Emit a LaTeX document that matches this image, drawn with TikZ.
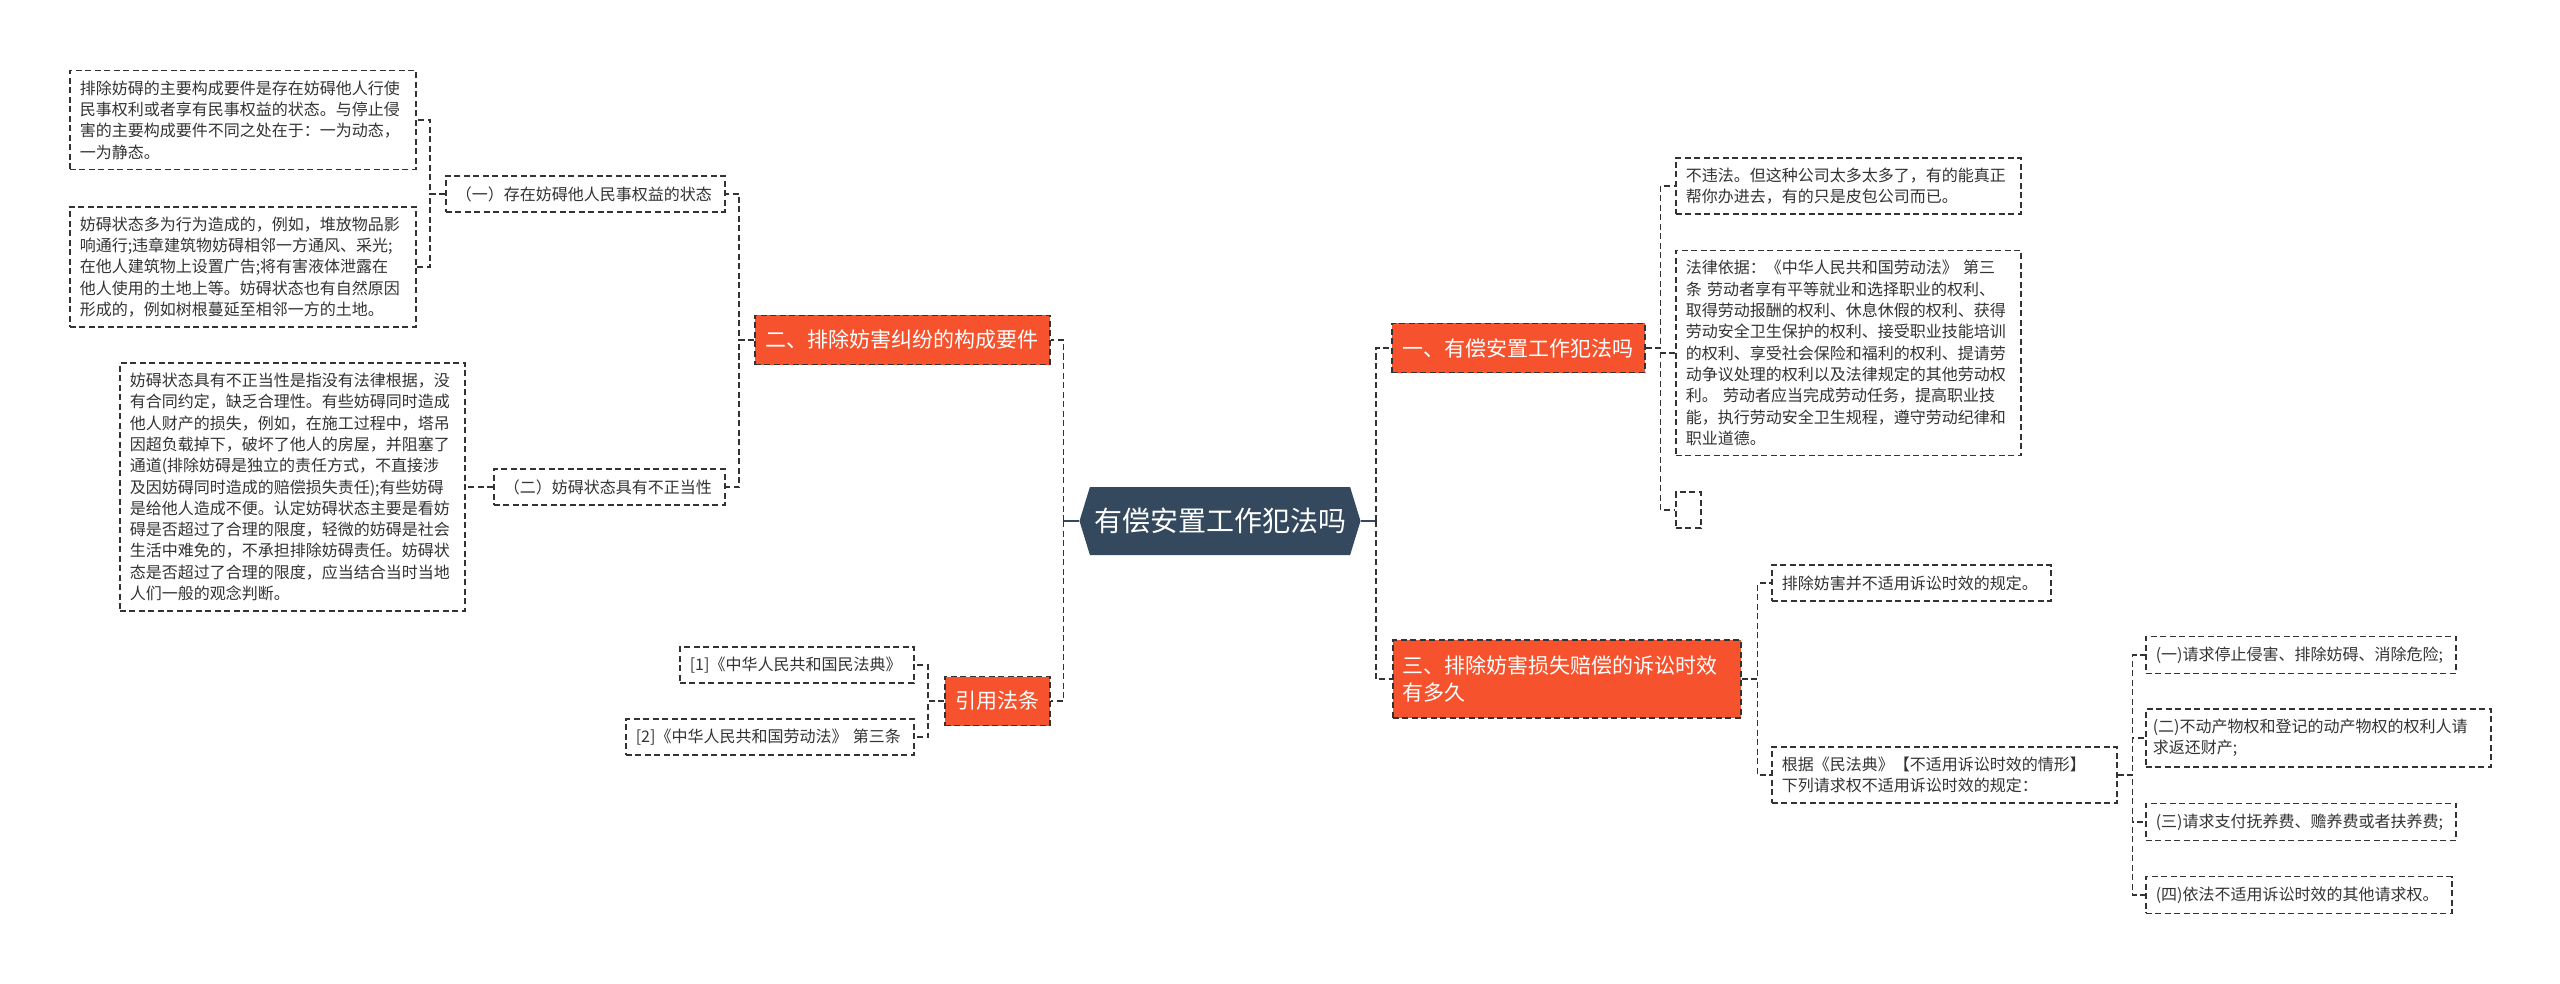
\documentclass[tikz,border=0pt]{standalone}
\usepackage{fontspec}
\setmainfont{Noto Sans CJK SC}
\usetikzlibrary{shapes.symbols}
\definecolor{topicred}{HTML}{F5522D}
\definecolor{rootblue}{HTML}{34495E}
\definecolor{linegray}{HTML}{333333}

\begin{document}
\begin{tikzpicture}[
  x=1pt, y=-1pt,
  conn/.style={draw=linegray, line width=1.6pt, dash pattern=on 6pt off 3.5pt},
  rootlink/.style={draw=rootblue, line width=2.5pt},
  leaf/.style={conn, fill=white, text=linegray, font=\fontsize{16}{21.3}\selectfont,
    align=left, text width=#1, inner xsep=10pt, inner ysep=10pt, minimum height=36pt, anchor=west},
  topic/.style={conn, fill=topicred, text=white, font=\fontsize{21}{27}\selectfont,
    inner xsep=10pt, minimum height=49pt, anchor=west},
  root/.style={shape=signal, signal to=west and east, signal pointer angle=146,
    fill=rootblue, text=white, font=\fontsize{28}{32}\selectfont,
    minimum width=281pt, minimum height=68pt, inner sep=0pt}
]
\useasboundingbox (0,0) rectangle (2560,984);

\node[root] (root) at (1220,521) {有偿安置工作犯法吗};

\node[topic, minimum width=295pt] (er) at (754,340) {二、排除妨害纠纷的构成要件};
\node[topic, minimum width=105pt] (yy) at (944,701) {引用法条};
\node[topic, minimum width=253pt] (yi) at (1391,348) {一、有偿安置工作犯法吗};
\node[topic, text width=328pt, align=left, minimum height=78pt] (san) at (1392,679)
  {三、排除妨害损失赔偿的诉讼时效\\有多久};

\node[leaf=259pt] (b1) at (445,194) {（一）存在妨碍他人民事权益的状态};
\node[leaf=211pt] (b2) at (493,487) {（二）妨碍状态具有不正当性};
\node[leaf=326pt] (a1) at (69,120) {排除妨碍的主要构成要件是存在妨碍他人行使\\
民事权利或者享有民事权益的状态。与停止侵\\
害的主要构成要件不同之处在于：一为动态，\\
一为静态。};
\node[leaf=326pt] (a2) at (69,267) {妨碍状态多为行为造成的，例如，堆放物品影\\
响通行;违章建筑物妨碍相邻一方通风、采光;\\
在他人建筑物上设置广告;将有害液体泄露在\\
他人使用的土地上等。妨碍状态也有自然原因\\
形成的，例如树根蔓延至相邻一方的土地。};
\node[leaf=325pt] (a3) at (119,487) {妨碍状态具有不正当性是指没有法律根据，没\\
有合同约定，缺乏合理性。有些妨碍同时造成\\
他人财产的损失，例如，在施工过程中，塔吊\\
因超负载掉下，破坏了他人的房屋，并阻塞了\\
通道(排除妨碍是独立的责任方式，不直接涉\\
及因妨碍同时造成的赔偿损失责任);有些妨碍\\
是给他人造成不便。认定妨碍状态主要是看妨\\
碍是否超过了合理的限度，轻微的妨碍是社会\\
生活中难免的，不承担排除妨碍责任。妨碍状\\
态是否超过了合理的限度，应当结合当时当地\\
人们一般的观念判断。};
\node[leaf=214pt] (r1) at (679,665) {[1]《中华人民共和国民法典》};
\node[leaf=268pt] (r2) at (625,737) {[2]《中华人民共和国劳动法》 第三条};

\node[leaf=325pt] (c1) at (1675,186) {不违法。但这种公司太多太多了，有的能真正\\
帮你办进去，有的只是皮包公司而已。};
\node[leaf=325pt] (c2) at (1675,353) {法律依据：《中华人民共和国劳动法》 第三\\
条 劳动者享有平等就业和选择职业的权利、\\
取得劳动报酬的权利、休息休假的权利、获得\\
劳动安全卫生保护的权利、接受职业技能培训\\
的权利、享受社会保险和福利的权利、提请劳\\
动争议处理的权利以及法律规定的其他劳动权\\
利。 劳动者应当完成劳动任务，提高职业技\\
能，执行劳动安全卫生规程，遵守劳动纪律和\\
职业道德。};
\node[leaf=5pt] (c3) at (1675,510) {};
\node[leaf=259pt] (d1) at (1771,583) {排除妨害并不适用诉讼时效的规定。};
\node[leaf=325pt] (d2) at (1771,775) {根据《民法典》【不适用诉讼时效的情形】\\
下列请求权不适用诉讼时效的规定：};
\node[leaf=290pt] (e1) at (2145,655) {(一)请求停止侵害、排除妨碍、消除危险;};
\node[leaf=331pt, inner xsep=7pt] (e2) at (2145,738) {(二)不动产物权和登记的动产物权的权利人请\\
求返还财产;};
\node[leaf=290pt] (e3) at (2145,822) {(三)请求支付抚养费、赡养费或者扶养费;};
\node[leaf=286pt] (e4) at (2145,895) {(四)依法不适用诉讼时效的其他请求权。};

\draw[rootlink] (root.west) -- ++(-16,0) coordinate (lt);
\draw[rootlink] (root.east) -- ++(15,0) coordinate (rt);
\draw[conn] (lt) |- (er.east);
\draw[conn] (lt) |- (yy.east);
\draw[conn] (er.west) -- ++(-15,0) |- (b1.east);
\draw[conn] (er.west) -- ++(-15,0) |- (b2.east);
\draw[conn] (b1.west) -- ++(-15,0) |- (a1.east);
\draw[conn] (b1.west) -- ++(-15,0) |- (a2.east);
\draw[conn] (b2.west) -- (a3.east);
\draw[conn] (yy.west) -- ++(-16,0) |- (r1.east);
\draw[conn] (yy.west) -- ++(-16,0) |- (r2.east);

\draw[conn] (rt) |- (yi.west);
\draw[conn] (rt) |- (san.west);
\draw[conn] (yi.east) -- ++(15,0) |- (c1.west);
\draw[conn] (yi.east) -- ++(15,0) |- (c2.west);
\draw[conn] (yi.east) -- ++(15,0) |- (c3.west);
\draw[conn] (san.east) -- ++(16,0) |- (d1.west);
\draw[conn] (san.east) -- ++(16,0) |- (d2.west);
\foreach \e in {e1,e2,e3,e4}
  \draw[conn] (d2.east) -- ++(15,0) |- (\e.west);
\end{tikzpicture}
\end{document}
